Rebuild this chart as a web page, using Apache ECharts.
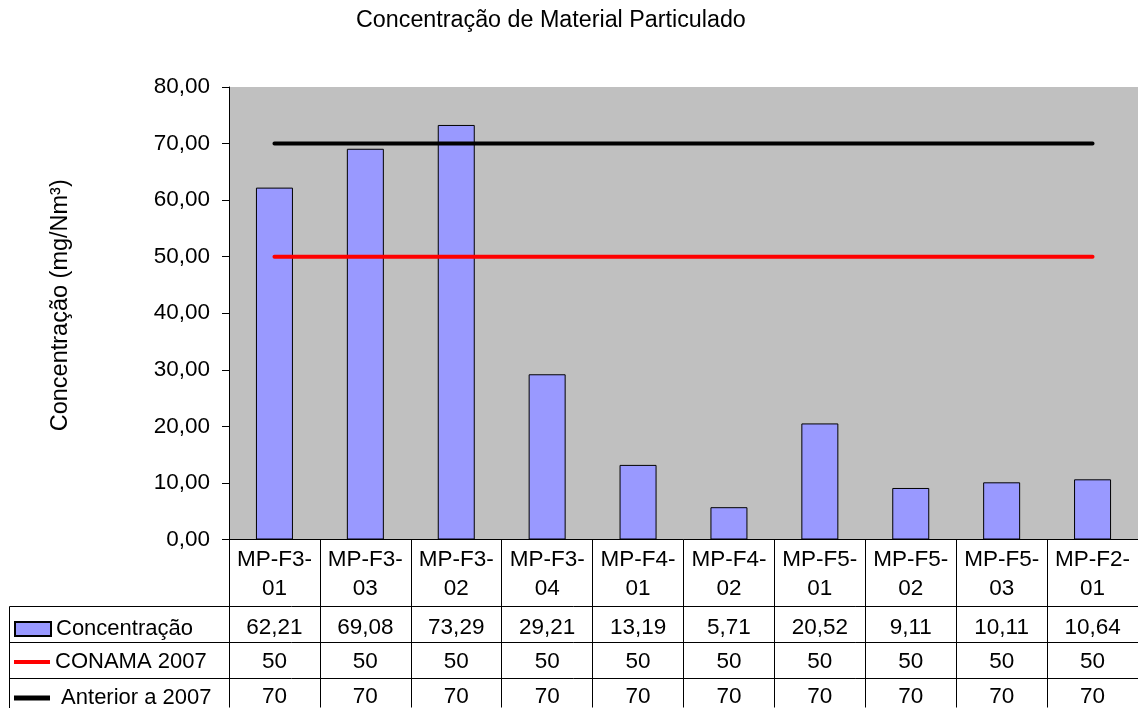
<!DOCTYPE html>
<html>
<head>
<meta charset="utf-8">
<script src="https://cdn.jsdelivr.net/npm/echarts@6/dist/echarts.min.js"></script>
<style>
  html, body { margin: 0; padding: 0; background: #fff; }
  #chart { width: 1138px; height: 708px; }
</style>
</head>
<body>
<div id="chart"></div>
<script>
// Sampling points (two-line labels as shown in the data table header)
const categories = ['MP-F3-\n01', 'MP-F3-\n03', 'MP-F3-\n02', 'MP-F3-\n04', 'MP-F4-\n01',
                    'MP-F4-\n02', 'MP-F5-\n01', 'MP-F5-\n02', 'MP-F5-\n03', 'MP-F2-\n01'];
// Measured particulate concentration (mg/Nm³)
const concentracao = [62.21, 69.08, 73.29, 29.21, 13.19, 5.71, 20.52, 9.11, 10.11, 10.64];
// Emission limits
const conama2007 = [50, 50, 50, 50, 50, 50, 50, 50, 50, 50];
const anterior2007 = [70, 70, 70, 70, 70, 70, 70, 70, 70, 70];
const yTicks = { min: 0, max: 80, interval: 10 };

const FONT = 'Liberation Sans, Arial, sans-serif';
const FS = 22.5;

// Layout of the plot and the data table beneath it
const plotLeft = 229, plotTop = 87, plotBottom = 540, tableLeft = 9.5, tableRight = 1138;
const rowLines = [606.5, 642.5, 678.5];
const rowCenters = [628, 662, 697];

const fmtComma = (v, d) => v.toFixed(d).replace('.', ',');

// One hidden-line x axis per table row, labels taken from the row's values
function rowAxis(values, center, decimals) {
  return {
    type: 'category', data: categories, gridIndex: 0, position: 'bottom',
    axisLine: { show: false }, axisTick: { show: false },
    axisLabel: {
      interval: 0, margin: center - plotBottom, verticalAlign: 'middle',
      fontFamily: FONT, fontSize: FS, color: '#000',
      formatter: (v, i) => decimals == null ? String(values[i]) : fmtComma(values[i], decimals)
    }
  };
}

function legendRow(name, top, h, fmt) {
  return {
    data: [{ name: name, icon: 'rect' }], left: 14, top: top, orient: 'vertical',
    padding: 0, itemWidth: 36, itemHeight: h, itemGap: 0, selectedMode: false,
    formatter: fmt || '{name}',
    textStyle: { fontFamily: FONT, fontSize: 22, color: '#000' }
  };
}

const chart = echarts.init(document.getElementById('chart'), null, { renderer: 'canvas' });

const option = {
  animation: false,
  backgroundColor: '#fff',
  title: {
    text: 'Concentração de Material Particulado',
    left: 356, top: 9, padding: 0,
    textStyle: { fontFamily: FONT, fontSize: 23.3, fontWeight: 'normal', color: '#000' }
  },
  grid: {
    left: plotLeft, top: plotTop, right: 0, bottom: 708 - plotBottom,
    show: true, backgroundColor: '#C0C0C0', borderWidth: 0, containLabel: false
  },
  legend: [
    legendRow('Concentração', 618, 14),
    legendRow('CONAMA 2007', 651, 4),
    legendRow('Anterior a 2007', 687, 5, ' {name}')
  ],
  xAxis: [
    {
      type: 'category', data: categories, gridIndex: 0, position: 'bottom',
      axisLine: { show: true, lineStyle: { color: '#000', width: 1 } },
      axisTick: { show: true, alignWithLabel: false, inside: false, length: 708 - plotBottom,
                  lineStyle: { color: '#000', width: 1 } },
      axisLabel: { interval: 0, margin: 6, lineHeight: 29, fontFamily: FONT, fontSize: FS, color: '#000' }
    },
    rowAxis(concentracao, rowCenters[0], 2),
    rowAxis(conama2007, rowCenters[1], null),
    rowAxis(anterior2007, rowCenters[2], null)
  ],
  yAxis: {
    type: 'value', min: yTicks.min, max: yTicks.max, interval: yTicks.interval,
    name: 'Concentração (mg/Nm³)', nameLocation: 'middle', nameGap: 156, nameRotate: 90,
    nameTextStyle: { fontFamily: FONT, fontSize: 23.5, color: '#000', padding: [0, 0, 0, 16] },
    axisLine: { show: true, lineStyle: { color: '#000', width: 1 } },
    axisTick: { show: true, inside: false, length: 7, lineStyle: { color: '#000' } },
    splitLine: { show: false },
    axisLabel: { margin: 19, fontFamily: FONT, fontSize: FS, color: '#000',
                 formatter: v => fmtComma(v, 2) }
  },
  series: [
    {
      name: 'Concentração', type: 'bar', data: concentracao, barWidth: 37,
      itemStyle: { color: '#9999FF', borderColor: '#000', borderWidth: 1 }
    },
    {
      name: 'CONAMA 2007', type: 'line', data: conama2007, symbol: 'none',
      lineStyle: { color: '#FF0000', width: 4, cap: 'round' }, itemStyle: { color: '#FF0000' }
    },
    {
      name: 'Anterior a 2007', type: 'line', data: anterior2007, symbol: 'none',
      lineStyle: { color: '#000', width: 4, cap: 'round' }, itemStyle: { color: '#000' }
    }
  ],
  graphic: [
    ...rowLines.map(y => ({
      type: 'line', silent: true,
      shape: { x1: tableLeft, y1: y, x2: tableRight, y2: y },
      style: { stroke: '#000', lineWidth: 1 }
    })),
    {
      type: 'line', silent: true,
      shape: { x1: tableLeft, y1: rowLines[0], x2: tableLeft, y2: 708 },
      style: { stroke: '#000', lineWidth: 1 }
    }
  ]
};

chart.setOption(option);
</script>
</body>
</html>
